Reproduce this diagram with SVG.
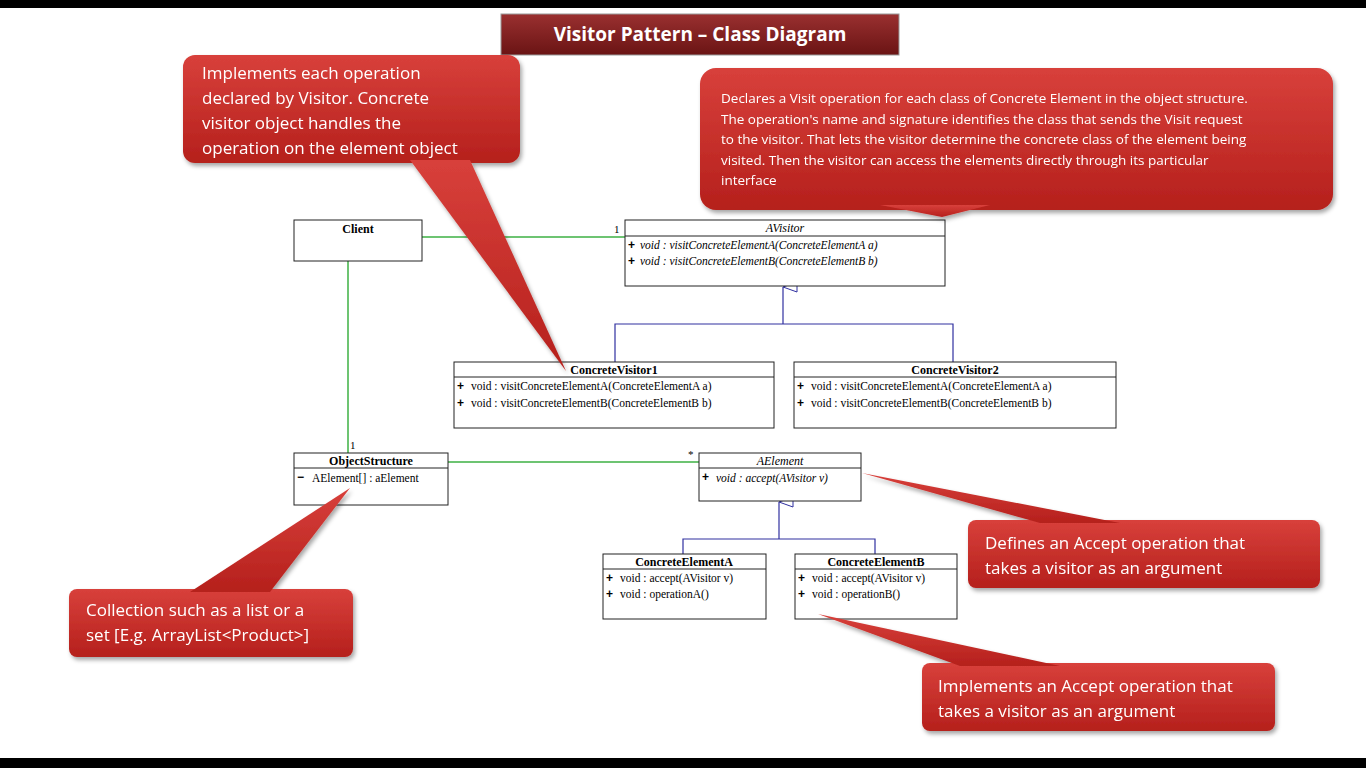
<svg xmlns="http://www.w3.org/2000/svg" width="1366" height="768" viewBox="0 0 1366 768">
<defs>
<linearGradient id="rg" x1="0" y1="0" x2="0" y2="1"><stop offset="0" stop-color="#d8403b"/><stop offset="1" stop-color="#b5201c"/></linearGradient>
<linearGradient id="tg" x1="0" y1="0" x2="0" y2="1"><stop offset="0" stop-color="#9a3030"/><stop offset="1" stop-color="#6a1414"/></linearGradient>
<filter id="sh" x="-10%" y="-10%" width="130%" height="140%"><feDropShadow dx="2" dy="3" stdDeviation="2" flood-color="#000" flood-opacity="0.35"/></filter>
<marker id="tri" markerWidth="12" markerHeight="16" refX="6" refY="1" orient="auto-start-reverse" markerUnits="userSpaceOnUse" viewBox="0 0 12 16"><path d="M6,1 L11,15 L1,15 Z" fill="#fff" stroke="#3030a0" stroke-width="1"/></marker>
</defs>
<style>
.box{fill:#fff;stroke:#222;stroke-width:1}
.cn{font-family:"Liberation Serif",serif;font-size:12px;font-weight:bold;text-anchor:middle;fill:#000}
.cni{font-family:"Liberation Serif",serif;font-size:12px;font-style:italic;text-anchor:middle;fill:#000}
.m{font-family:"Liberation Serif",serif;font-size:11.5px;fill:#000}
.mi{font-family:"Liberation Serif",serif;font-size:11.5px;font-style:italic;fill:#000}
.pl{font-family:"Liberation Sans",sans-serif;font-size:12px;font-weight:bold}
.g{stroke:#3cb043;stroke-width:1.5;fill:none}
.b{stroke:#3030a0;stroke-width:1.2;fill:none}
.ct{font-family:"Open Sans",sans-serif;font-size:17px;fill:#fff}
.cs{font-family:"Open Sans",sans-serif;font-size:13.5px;fill:#fff}
.call{fill:url(#rg)}
</style>
<rect width="1366" height="768" fill="#fff"/>
<rect width="1366" height="8" fill="#000"/>
<rect y="758" width="1366" height="10" fill="#000"/>

<g id="connectors">
<path class="g" d="M422,237 H625"/>
<path class="g" d="M348,261 V453"/>
<path class="g" d="M448,462 H699"/>
<path class="b" d="M615,362 V324 H953 V362"/>
<path class="b" d="M783,324 V287" marker-end="url(#tri)"/>
<path class="b" d="M683,554 V539 H875 V554"/>
<path class="b" d="M779,539 V502" marker-end="url(#tri)"/>
<text x="614" y="233" font-family="Liberation Serif" font-size="11">1</text>
<text x="350" y="449" font-family="Liberation Serif" font-size="11">1</text>
<text x="688" y="458" font-family="Liberation Serif" font-size="11">*</text>
</g>

<g id="client"><rect class="box" x="294" y="220" width="128" height="41"/><text class="cn" x="358" y="233">Client</text></g>

<g id="avisitor"><rect class="box" x="625" y="220" width="320" height="66"/><line x1="625" y1="236" x2="945" y2="236" stroke="#222"/>
<text class="cni" x="785" y="232">AVisitor</text>
<text class="pl" x="628" y="249">+</text><text class="mi" x="640" y="249">void : visitConcreteElementA(ConcreteElementA a)</text>
<text class="pl" x="628" y="265">+</text><text class="mi" x="640" y="265">void : visitConcreteElementB(ConcreteElementB b)</text></g>

<g id="cv1"><rect class="box" x="454" y="362" width="320" height="66"/><line x1="454" y1="377" x2="774" y2="377" stroke="#222"/>
<text class="cn" x="614" y="374">ConcreteVisitor1</text>
<text class="pl" x="457" y="390">+</text><text class="m" x="471" y="390">void : visitConcreteElementA(ConcreteElementA a)</text>
<text class="pl" x="457" y="407">+</text><text class="m" x="471" y="407">void : visitConcreteElementB(ConcreteElementB b)</text></g>

<g id="cv2"><rect class="box" x="794" y="362" width="322" height="66"/><line x1="794" y1="377" x2="1116" y2="377" stroke="#222"/>
<text class="cn" x="955" y="374">ConcreteVisitor2</text>
<text class="pl" x="797" y="390">+</text><text class="m" x="811" y="390">void : visitConcreteElementA(ConcreteElementA a)</text>
<text class="pl" x="797" y="407">+</text><text class="m" x="811" y="407">void : visitConcreteElementB(ConcreteElementB b)</text></g>

<g id="objectstructure"><rect class="box" x="294" y="453" width="154" height="52"/><line x1="294" y1="468" x2="448" y2="468" stroke="#222"/>
<text class="cn" x="371" y="465">ObjectStructure</text>
<text class="pl" x="297" y="481">−</text><text class="m" x="312" y="482">AElement[] : aElement</text></g>

<g id="aelement"><rect class="box" x="699" y="453" width="162" height="48"/><line x1="699" y1="468" x2="861" y2="468" stroke="#222"/>
<text class="cni" x="780" y="465">AElement</text>
<text class="pl" x="702" y="481">+</text><text class="mi" x="716" y="482">void : accept(AVisitor v)</text></g>

<g id="cea"><rect class="box" x="603" y="554" width="163" height="65"/><line x1="603" y1="569" x2="766" y2="569" stroke="#222"/>
<text class="cn" x="684" y="566">ConcreteElementA</text>
<text class="pl" x="606" y="582">+</text><text class="m" x="620" y="582">void : accept(AVisitor v)</text>
<text class="pl" x="606" y="598">+</text><text class="m" x="620" y="598">void : operationA()</text></g>

<g id="ceb"><rect class="box" x="795" y="554" width="162" height="65"/><line x1="795" y1="569" x2="957" y2="569" stroke="#222"/>
<text class="cn" x="876" y="566">ConcreteElementB</text>
<text class="pl" x="798" y="582">+</text><text class="m" x="812" y="582">void : accept(AVisitor v)</text>
<text class="pl" x="798" y="598">+</text><text class="m" x="812" y="598">void : operationB()</text></g>

<g id="title"><rect x="501" y="14" width="398" height="41" fill="url(#tg)" stroke="#999" stroke-width="1"/>
<text x="700" y="41" text-anchor="middle" font-family="Open Sans,sans-serif" font-size="19" font-weight="bold" fill="#fff">Visitor Pattern – Class Diagram</text></g>

<g id="callout1" filter="url(#sh)"><rect class="call" x="183" y="55" width="337" height="108" rx="12"/><path class="call" d="M410,160 L470,160 L566,371 Z"/>
<text class="ct" x="202" y="79">Implements each operation</text>
<text class="ct" x="202" y="104">declared by Visitor. Concrete</text>
<text class="ct" x="202" y="129">visitor object handles the</text>
<text class="ct" x="202" y="154">operation on the element object</text></g>

<g id="callout2" filter="url(#sh)"><rect class="call" x="700" y="68" width="633" height="142" rx="16"/><path class="call" d="M880,205 L990,205 L942,217 Z"/>
<text class="cs" x="721" y="103">Declares a Visit operation for each class of Concrete Element in the object structure.</text>
<text class="cs" x="721" y="124">The operation's name and signature identifies the class that sends the Visit request</text>
<text class="cs" x="721" y="144">to the visitor. That lets the visitor determine the concrete class of the element being</text>
<text class="cs" x="721" y="165">visited. Then the visitor can access the elements directly through its particular</text>
<text class="cs" x="721" y="185">interface</text></g>

<g id="callout3" filter="url(#sh)"><rect class="call" x="69" y="589" width="284" height="68" rx="8"/><path class="call" d="M190,592 L270,592 L350,488 Z"/>
<text class="ct" x="86" y="616">Collection such as a list or a</text>
<text class="ct" x="86" y="641">set [E.g. ArrayList&lt;Product&gt;]</text></g>

<g id="callout4" filter="url(#sh)"><rect class="call" x="968" y="520" width="352" height="68" rx="8"/><path class="call" d="M1040,523 L1120,523 L862,473 Z"/>
<text class="ct" x="985" y="549">Defines an Accept operation that</text>
<text class="ct" x="985" y="574">takes a visitor as an argument</text></g>

<g id="callout5" filter="url(#sh)"><rect class="call" x="922" y="663" width="353" height="68" rx="8"/><path class="call" d="M960,666 L1060,666 L818,614 Z"/>
<text class="ct" x="938" y="692">Implements an Accept operation that</text>
<text class="ct" x="938" y="717">takes a visitor as an argument</text></g>
</svg>
